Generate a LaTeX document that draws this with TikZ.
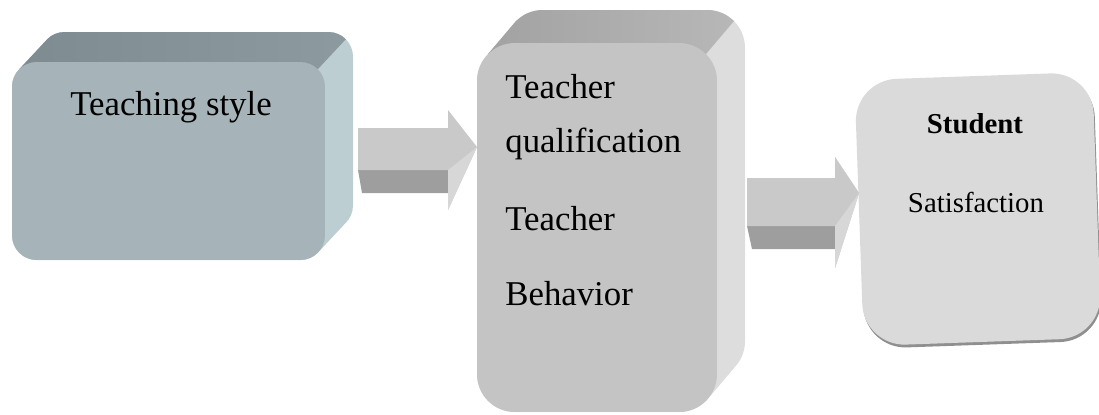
\documentclass[tikz,border=0pt]{standalone}
\usepackage{fontspec}
\setmainfont{Liberation Serif}
\usepackage{tikz}
\usetikzlibrary{calc,shadows}
\definecolor{tsfront}{HTML}{A6B4B9}
\definecolor{tstop}{HTML}{7E8B91}
\definecolor{tsside}{HTML}{BDCED3}
\definecolor{qfront}{HTML}{C4C4C4}
\definecolor{qtop}{HTML}{A2A2A2}
\definecolor{qside}{HTML}{DDDDDD}
\definecolor{sfront}{HTML}{DADADA}
\definecolor{arrtop}{HTML}{C9C9C9}
\definecolor{arrlow}{HTML}{9E9E9E}
\definecolor{arrlit}{HTML}{D7D7D7}
\tikzset{
  face/.style={inner sep=0pt, outer sep=0pt},
  lbl/.style={font=\fontsize{19.8}{24}\selectfont, inner sep=0pt, anchor=base west},
  slbl/.style={font=\fontsize{16.4}{20}\selectfont, inner sep=0pt, anchor=base}
}

\begin{document}
\begin{tikzpicture}[x=0.02cm,y=-0.02cm]
\useasboundingbox (0,0) rectangle (1099,414);
% teaching style block
\begin{scope}
\clip[rounded corners=14pt] \foreach \k in {0,...,30}{({12+\k*28/30},{62-\k}) rectangle ({325+\k*28/30},{260-\k})};
\fill[tsside] (0,0) rectangle (400,300);
\shade[left color=tstop, right color=tstop!75!tsside] (19,69) -- (75,9) -- (374,9) -- (318,69) -- cycle;
\end{scope}
\node[face, fill=tsfront, rounded corners=14pt, minimum width=6.26cm, minimum height=3.96cm] (teach) at (168.5,161) {};
\node[lbl, anchor=base] (teachlbl) at (171,115) {Teaching style};
% teacher block
\begin{scope}
\clip[rounded corners=21.5pt] \foreach \k in {0,...,33}{({477+\k*28/33},{43-\k}) rectangle ({717+\k*28/33},{412-\k})};
\fill[qside] (400,-40) rectangle (800,420);
\shade[left color=qtop, right color=qtop!60!qside] (488,54) -- (544,-12) -- (762,-12) -- (706,54) -- cycle;
\end{scope}
\node[face, fill=qfront, rounded corners=21.5pt, minimum width=4.8cm, minimum height=7.38cm] (qual) at (597,227.5) {};
\node[lbl] (qual1) at (505,98) {Teacher};
\node[lbl] (qual2) at (505,152) {qualification};
\node[lbl] (qual3) at (505,230) {Teacher};
\node[lbl] (qual4) at (505,305) {Behavior};
% satisfaction block
\node[face, fill=sfront, rounded corners=24pt, minimum width=4.76cm, minimum height=5.32cm, rotate=2,
  drop shadow={shadow xshift=0.6pt, shadow yshift=-1.6pt, fill=black!55, opacity=0.8}] (satis) at (978,209) {};
\node[slbl, font=\fontsize{16.4}{20}\selectfont\bfseries] (satis1) at (975,133) {Student};
\node[slbl] (satis2) at (976,212) {Satisfaction};
% arrows
\coordinate (s1) at (358,128);
\coordinate (e1) at (qual.west |- s1);
\fill[arrlow] ($(s1)+(0,42)$) -- ($(e1)+(-29,42)$) -- ($(e1)+(-29,65)$) -- ($(s1)+(4,65)$) -- cycle;
\fill[arrtop] (s1) -- ($(e1)+(-29,0)$) -- ($(e1)+(-29,-18)$) -- ($(e1)+(0,19)$) -- ($(e1)+(-29,82)$) -- ($(e1)+(-29,42)$) -- ($(s1)+(0,42)$) -- cycle;
\fill[arrlit] ($(e1)+(-29,42)$) -- ($(e1)+(0,19)$) -- ($(e1)+(-29,82)$) -- cycle;
\coordinate (s2) at (747,178);
\coordinate (e2) at (satis.west |- s2);
\fill[arrlow] ($(s2)+(0,48)$) -- ($(e2)+(-24,48)$) -- ($(e2)+(-24,71)$) -- ($(s2)+(5,71)$) -- cycle;
\fill[arrtop] (s2) -- ($(e2)+(-24,0)$) -- ($(e2)+(-24,-21)$) -- ($(e2)+(0,15)$) -- ($(e2)+(-24,90)$) -- ($(e2)+(-24,48)$) -- ($(s2)+(0,48)$) -- cycle;
\fill[arrlit] ($(e2)+(-24,48)$) -- ($(e2)+(0,15)$) -- ($(e2)+(-24,90)$) -- cycle;
\end{tikzpicture}
\end{document}
